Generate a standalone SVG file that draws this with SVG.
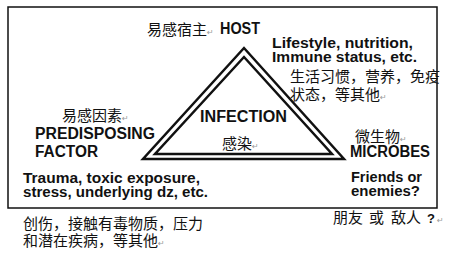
<svg xmlns="http://www.w3.org/2000/svg" width="464" height="275" viewBox="0 0 464 275">
<style>
.en{font-family:"Liberation Sans",Arial,sans-serif;font-weight:bold;fill:#111}
.zh{font-family:"Noto Sans CJK SC","Noto Sans",sans-serif;fill:#111;font-size:15px}
.pm{font-family:"DejaVu Sans",sans-serif;fill:#999;font-size:8px}
.tri{fill:none;stroke:#111;stroke-width:2.5;stroke-linejoin:miter}
</style>
<rect width="464" height="275" fill="#fff"/>
<rect id="frame" x="8" y="7" width="429" height="201" fill="none" stroke="#111" stroke-width="1.5"/>
<g id="connectors">
<polygon class="tri" points="244,48 143,159 344,159"/>
<polygon class="tri" points="244,57 155,154 332,154"/>
</g>
<g id="host">
<text class="zh" x="147" y="35">易感宿主<tspan class="pm">↵</tspan></text>
<text class="en" x="220" y="34" font-size="16" textLength="40" lengthAdjust="spacingAndGlyphs">HOST</text>
<text class="en" x="272" y="48" font-size="14" textLength="141" lengthAdjust="spacingAndGlyphs">Lifestyle, nutrition,</text>
<text class="en" x="272" y="62" font-size="14" textLength="145" lengthAdjust="spacingAndGlyphs">Immune status, etc.</text>
<text class="zh" x="290" y="82" font-size="14.7">生活习惯，营养，免疫</text>
<text class="zh" x="290" y="100">状态，等其他<tspan class="pm">↵</tspan></text>
</g>
<g id="predisposing">
<text class="zh" x="62" y="121">易感因素<tspan class="pm">↵</tspan></text>
<text class="en" x="35" y="139" font-size="16" textLength="120" lengthAdjust="spacingAndGlyphs">PREDISPOSING</text>
<text class="en" x="35" y="157" font-size="16" textLength="63" lengthAdjust="spacingAndGlyphs">FACTOR</text>
<text class="en" x="23" y="183" font-size="14" textLength="177" lengthAdjust="spacingAndGlyphs">Trauma, toxic exposure,</text>
<text class="en" x="23" y="197" font-size="14" textLength="185" lengthAdjust="spacingAndGlyphs">stress, underlying dz, etc.</text>
<text class="zh" x="23" y="229">创伤，接触有毒物质，压力</text>
<text class="zh" x="23" y="246">和潜在疾病，等其他<tspan class="pm">↵</tspan></text>
</g>
<g id="infection">
<text class="en" x="200" y="122" font-size="16" textLength="87" lengthAdjust="spacingAndGlyphs">INFECTION</text>
<text class="zh" x="222" y="149">感染<tspan class="pm">↵</tspan></text>
</g>
<g id="microbes">
<text class="zh" x="355" y="142">微生物<tspan class="pm">↵</tspan></text>
<text class="en" x="350" y="157" font-size="16" textLength="80" lengthAdjust="spacingAndGlyphs">MICROBES</text>
<text class="en" x="351" y="182" font-size="14" textLength="71" lengthAdjust="spacingAndGlyphs">Friends or</text>
<text class="en" x="351" y="196" font-size="14" textLength="69" lengthAdjust="spacingAndGlyphs">enemies?</text>
<text class="zh" x="333" y="223">朋友<tspan x="369">或</tspan><tspan x="391">敌人</tspan><tspan x="427" class="en" font-size="13">?</tspan><tspan class="pm" x="437">↵</tspan></text>
</g>
</svg>
